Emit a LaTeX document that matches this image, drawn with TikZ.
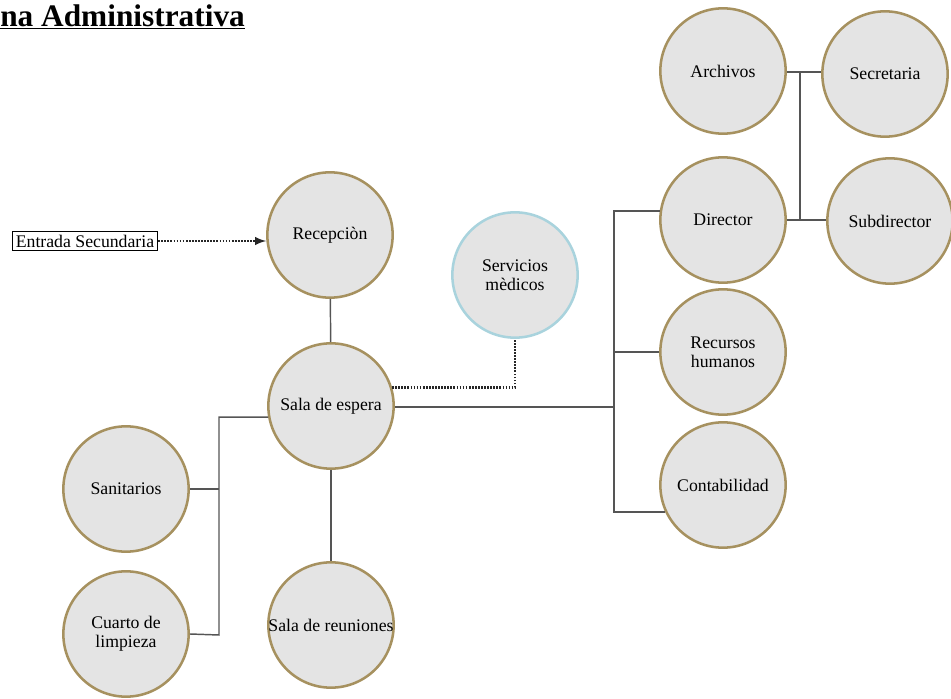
\documentclass[tikz,border=0pt]{standalone}
\usepackage{fontspec}
\setmainfont{Liberation Serif}
\usetikzlibrary{shapes,arrows,positioning}

\definecolor{roomfill}{HTML}{E4E4E4}
\definecolor{roomgold}{HTML}{A6915F}
\definecolor{roomblue}{HTML}{A9D3DD}
\definecolor{linkgray}{HTML}{555555}

\begin{document}
\begin{tikzpicture}[x=0.75pt,y=-0.75pt,
  room/.style={circle, draw=roomgold, line width=1.9pt, fill=roomfill,
    minimum size=94pt, inner sep=0pt, align=center, font=\fontsize{13.3}{14}\selectfont},
  extroom/.style={room, draw=roomblue},
  link/.style={draw=linkgray, line width=1.1pt},
  dotlink/.style={draw=black!85, line width=1.8pt, dash pattern=on 1.3pt off 1pt}]
\useasboundingbox (0,0) rectangle (951,699);

\node[anchor=west, inner sep=0pt, font=\fontsize{23.5}{26}\selectfont\bfseries] (title) at (0,17)
  {\underline{na Administrativa}};

\node[draw, line width=1pt, inner sep=2.5pt, font=\fontsize{13.3}{14}\selectfont] (entrada) at (85,241)
  {Entrada Secundaria};

\node[room] (rec) at (330,235) {Recepciòn};
\node[room] (espera) at (331,406) {Sala de espera};
\node[extroom] (serv) at (515,275) {Servicios\\mèdicos};
\node[room] (sanit) at (126,489) {Sanitarios};
\node[room] (cuarto) at (126,634) {Cuarto de\\limpieza};
\node[room] (reun) at (331,625) {\makebox[0pt]{Sala de reuniones}};
\node[room] (arch) at (723,71) {Archivos};
\node[room] (secr) at (885,74) {Secretaria};
\node[room] (dir) at (723,220) {Director};
\node[room] (subdir) at (890,221) {Subdirector};
\node[room] (rrhh) at (723,352) {Recursos\\humanos};
\node[room] (conta) at (723,485) {Contabilidad};

% bus lines
\coordinate (busL) at (219,635);
\coordinate (busR) at (614,407);
\coordinate (busT) at (800,72);

\draw[dotlink, -latex] (entrada.east) -- (entrada.east -| rec.west);
\draw[link] (rec) -- (espera);
\draw[link] (espera) -- (reun);
\draw[dotlink] (espera.17) -| (serv.south);

\draw[link] (espera.190) -| (busL) -- (cuarto.east);
\draw[link] (sanit.east) -- (sanit.east -| busL);

\draw[link] (espera.east |- busR) -- (busR) |- (dir.172);
\draw[link] (busR) |- (conta.205);
\draw[link] (rrhh.west) -- (rrhh.west -| busR);

\draw[link] (arch.east |- busT) -- (secr.west |- busT);
\draw[link] (busT) -- (busT |- dir.east);
\draw[link] (dir.east) -- (subdir.west |- dir.east);
\end{tikzpicture}
\end{document}
